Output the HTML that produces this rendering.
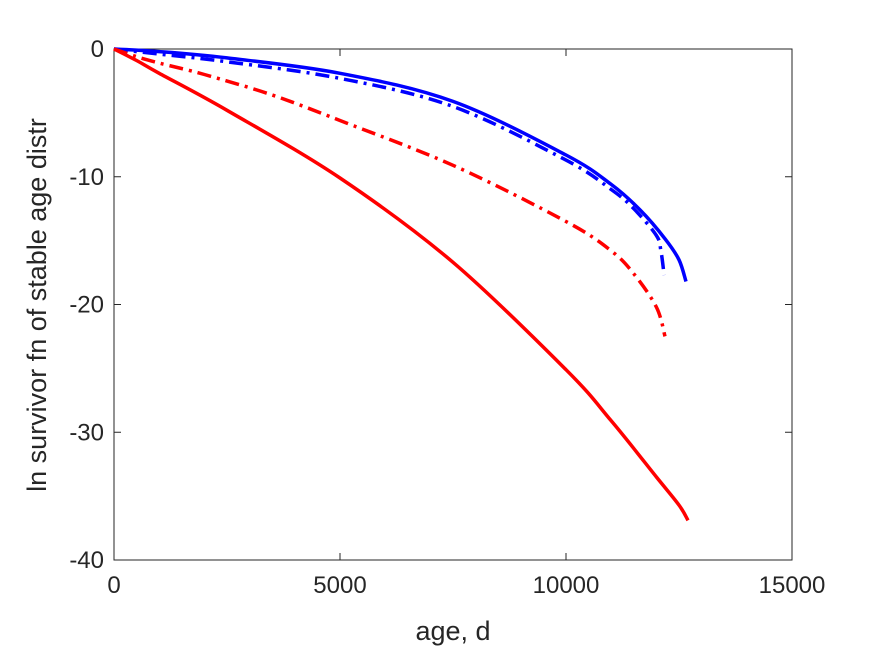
<!DOCTYPE html>
<html><head><meta charset="utf-8"><style>body{margin:0;background:#fff}svg{font-family:"Liberation Sans",sans-serif}</style></head>
<body>
<svg id="c" width="875" height="656"></svg>
<script>
const xTicks=[0,5000,10000,15000];
const yTicks=[0,-10,-20,-30,-40];
const ages1=[0,1000,2500,5000,7500,10000,11000,11640,12200,12500,12655];
const blueSolid=[0,-0.2,-0.7,-1.9,-4.1,-8.3,-10.6,-12.6,-14.9,-16.5,-18.2];
const ages2=[0,1000,2500,5000,7500,10000,11000,11500,12000,12100,12170];
const blueDash=[0,-0.4,-1.0,-2.3,-4.5,-8.7,-11,-12.5,-14.6,-15.8,-17.7];
const ages3=[0,500,1000,2000,3500,5000,7500,10000,11000,11500,12000,12190];
const redDash=[0,-0.6,-1.1,-2.0,-3.6,-5.6,-9.1,-13.5,-15.8,-17.6,-20.2,-22.5];
const ages4=[0,500,1000,2500,5000,7500,10000,11000,12000,12500,12700];
const redSolid=[0,-0.9,-1.9,-4.8,-10.1,-16.7,-25.1,-29.1,-33.5,-35.7,-36.9];
const X0=114,X1=792,Y0=49,Y1=560;
const sx=v=>X0+(v-0)/15000*(X1-X0);
const sy=v=>Y0+(0-v)/40*(Y1-Y0);
const svg=document.getElementById('c');const NS='http://www.w3.org/2000/svg';
function mk(t,a,p){const e=document.createElementNS(NS,t);for(const k in a)e.setAttribute(k,a[k]);(p||svg).appendChild(e);return e;}
const box=mk('rect',{x:X0,y:Y0,width:X1-X0,height:Y1-Y0,fill:'#fff',stroke:'#262626','stroke-width':1});


xTicks.forEach(v=>{const x=sx(v);
 mk('line',{x1:x,x2:x,y1:Y1,y2:Y1-7,stroke:'#262626'});mk('line',{x1:x,x2:x,y1:Y0,y2:Y0+7,stroke:'#262626'});
 const t=mk('text',{x:x,y:Y1+33,'text-anchor':'middle','font-size':24,fill:'#262626'});t.textContent=v;
 
 });
yTicks.forEach(v=>{const y=sy(v);
 mk('line',{x1:X0,x2:X0+7,y1:y,y2:y,stroke:'#262626'});mk('line',{x1:X1,x2:X1-7,y1:y,y2:y,stroke:'#262626'});
 const t=mk('text',{x:X0-10,y:y+8,'text-anchor':'end','font-size':24,fill:'#262626'});t.textContent=v;
 
 });
function line(xs,ys,col,dash,name){
 const P=xs.map((a,i)=>[sx(a),sy(ys[i])]);
 let d='M'+P[0][0].toFixed(1)+','+P[0][1].toFixed(1);
 for(let i=0;i<P.length-1;i++){
  const p0=P[Math.max(0,i-1)],p1=P[i],p2=P[i+1],p3=P[Math.min(P.length-1,i+2)];
  const c1=[p1[0]+(p2[0]-p0[0])/6,p1[1]+(p2[1]-p0[1])/6];
  const c2=[p2[0]-(p3[0]-p1[0])/6,p2[1]-(p3[1]-p1[1])/6];
  d+='C'+c1.map(v=>v.toFixed(1)).join(',')+' '+c2.map(v=>v.toFixed(1)).join(',')+' '+p2.map(v=>v.toFixed(1)).join(',');
 }
 const p=mk('path',{d:d,fill:'none',stroke:col,'stroke-width':3.5,'stroke-dasharray':dash||'none'});
 
 }
line(ages1,blueSolid,'#0000ff','','blue-solid-line');
line(ages2,blueDash,'#0000ff','14 6 3 6','blue-dashdot-line');
line(ages3,redDash,'#ff0000','14 6 3 6','red-dashdot-line');
line(ages4,redSolid,'#ff0000','','red-solid-line');
const xl=mk('text',{x:(X0+X1)/2,y:640,'text-anchor':'middle','font-size':27,fill:'#262626'});xl.textContent='age, d';


const yl=mk('text',{x:46,y:305,'text-anchor':'middle','font-size':27,fill:'#262626',transform:'rotate(-90 46 305)'});yl.textContent='ln survivor fn of stable age distr';


</script>
</body></html>
